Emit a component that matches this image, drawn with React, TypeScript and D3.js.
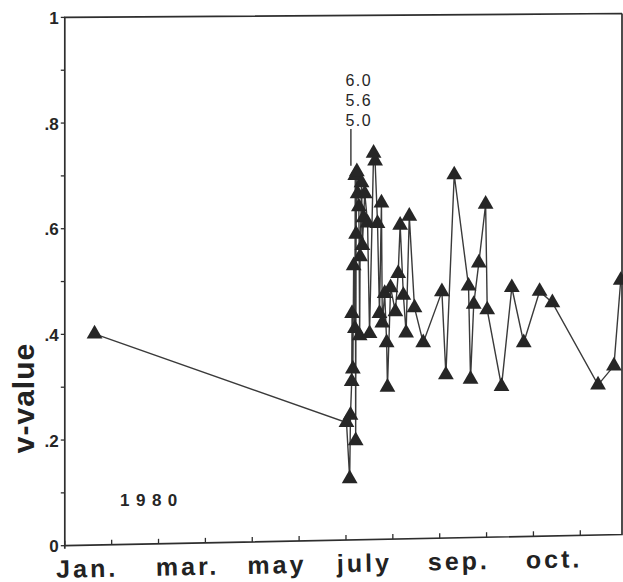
import React from 'react';
import * as d3 from 'd3';

// ---- data (month fraction since Jan 1, v-value) ----
const months = [
  0.635, 6.011, 6.079, 6.096, 6.122, 6.13, 6.147, 6.164, 6.19, 6.198, 6.207, 6.216,
  6.232, 6.249, 6.275, 6.292, 6.301, 6.333, 6.35, 6.376, 6.401, 6.461, 6.503, 6.589,
  6.621, 6.673, 6.715, 6.757, 6.775, 6.826, 6.868, 6.885, 6.952, 7.054, 7.114, 7.156,
  7.225, 7.283, 7.351, 7.462, 7.648, 8.047, 8.132, 8.31, 8.615, 8.658, 8.726, 8.835,
  8.98, 9.014, 9.319, 9.539, 9.793, 10.132, 10.404, 11.379, 11.718, 11.863,
];
const values = [
  0.4, 0.224, 0.117, 0.238, 0.302, 0.432, 0.326, 0.523, 0.403, 0.695, 0.189, 0.583,
  0.702, 0.66, 0.635, 0.389, 0.54, 0.681, 0.561, 0.614, 0.66, 0.604, 0.393, 0.737,
  0.722, 0.603, 0.431, 0.642, 0.413, 0.469, 0.375, 0.29, 0.48, 0.434, 0.507, 0.599,
  0.465, 0.393, 0.616, 0.441, 0.374, 0.471, 0.312, 0.694, 0.481, 0.303, 0.446, 0.525,
  0.637, 0.435, 0.288, 0.477, 0.371, 0.469, 0.447, 0.288, 0.324, 0.488,
];
const xTickMonths = [0, 1, 2, 3, 4, 5, 6, 7, 8, 9, 10, 11];
const monthLabels = ['Jan.', 'mar.', 'may', 'july', 'sep.', 'oct.'];
const monthLabelPos = [0.482, 2.625, 4.531, 6.397, 8.412, 10.446];
const yTicks = [0, 0.1, 0.2, 0.3, 0.4, 0.5, 0.6, 0.7, 0.8, 0.9, 1];
const yTickLabels = ['0', '', '.2', '', '.4', '', '.6', '', '.8', '', '1'];
const annotationLabels = ['6.0', '5.6', '5.0'];
const annotationMonth = 6.105;
const annotationValue = 0.702;
const yearLabel = '1980';
const yTitle = 'v-value';

const W = 623;
const H = 582;
const FONT = '"Liberation Sans", Arial, Helvetica, sans-serif';

export default function App() {
  const xScale = d3.scaleLinear().domain([0, 11.89]).range([64.8, 622]);
  // slight scan skew of the original frame
  const bottomAt = d3.scaleLinear().domain([64.8, 622]).range([545.7, 534.5]);
  const topAt = d3.scaleLinear().domain([64.8, 622]).range([17.4, 13.5]);
  const yAt = (x: number, v: number) =>
    d3.scaleLinear().domain([0, 1]).range([bottomAt(x), topAt(x)])(v);

  const pts: [number, number][] = months.map((m, i) => [m, values[i]]);
  const line = d3
    .line<[number, number]>()
    .x((d) => xScale(d[0]))
    .y((d) => yAt(xScale(d[0]), d[1]));
  const tri = d3.symbol().type(d3.symbolTriangle).size(108)() as string;

  const x0 = xScale.range()[0];
  const x1 = xScale.range()[1];
  const framePath = `M${x1},${topAt(x1)} L${x0},${topAt(x0)} L${x0},${bottomAt(x0) + 3} M${x0},${bottomAt(x0)} L${x1},${bottomAt(x1)} L${x1},${topAt(x1)}`;
  const slopeDeg = (Math.atan2(bottomAt(x1) - bottomAt(x0), x1 - x0) * 180) / Math.PI;

  const ax = xScale(annotationMonth);
  const ay = yAt(ax, annotationValue);

  return (
    <svg
      width={W}
      height={H}
      viewBox={`0 0 ${W} ${H}`}
      style={{ position: 'absolute', left: 0, top: 0, background: '#fff' }}
    >
      <rect x={0} y={0} width={W} height={H} fill="#fff" />
      {/* frame */}
      <path d={framePath} fill="none" stroke="#2e2e2e" strokeWidth={1.7} />
      {/* y ticks */}
      {yTicks.map((v, i) => (
        <g key={'yt' + i}>
          <line x1={x0 - 4} x2={x0} y1={yAt(x0, v)} y2={yAt(x0, v)} stroke="#2e2e2e" strokeWidth={1.3} />
          {yTickLabels[i] && (
            <text
              x={x0 - 6}
              y={yAt(x0, v)}
              dy="0.38em"
              textAnchor="end"
              fontFamily={FONT}
              fontWeight="bold"
              fontSize={17}
              fill="#262626"
            >
              {yTickLabels[i]}
            </text>
          )}
        </g>
      ))}
      {/* x ticks */}
      {xTickMonths.map((m) => {
        const x = xScale(m);
        return (
          <line key={'xt' + m} x1={x} x2={x} y1={bottomAt(x)} y2={bottomAt(x) - 5} stroke="#2e2e2e" strokeWidth={1.3} />
        );
      })}
      {/* month labels */}
      {monthLabels.map((lab, i) => {
        const x = xScale(monthLabelPos[i]);
        const y = bottomAt(x) + 32;
        return (
          <text
            key={lab}
            x={x}
            y={y}
            textAnchor="middle"
            fontFamily={FONT}
            fontWeight="bold"
            fontSize={25}
            letterSpacing={3}
            fill="#222"
            transform={`rotate(${slopeDeg},${x},${y})`}
          >
            {lab}
          </text>
        );
      })}
      {/* y title */}
      <text
        x={0}
        y={0}
        transform={`translate(34,398) rotate(-90)`}
        textAnchor="middle"
        fontFamily={FONT}
        fontWeight="bold"
        fontSize={30}
        letterSpacing={1}
        fill="#222"
      >
        {yTitle}
      </text>
      {/* year */}
      <text x={120} y={506} fontFamily={FONT} fontWeight="bold" fontSize={17} letterSpacing={6.5} fill="#262626">
        {yearLabel}
      </text>
      {/* annotation */}
      {annotationLabels.map((lab, i) => (
        <text
          key={lab}
          x={ax - 5.5}
          y={86 + i * 20}
          fontFamily={FONT}
          fontSize={16}
          letterSpacing={1.5}
          fill="#262626"
        >
          {lab}
        </text>
      ))}
      <line x1={ax} x2={ax} y1={129} y2={ay - 6} stroke="#333" strokeWidth={1.4} />
      {/* series line */}
      <path d={line(pts) || ''} fill="none" stroke="#3a3a3a" strokeWidth={1.4} />
      {/* markers */}
      {pts.map((d, i) => {
        const x = xScale(d[0]);
        const y = yAt(x, d[1]);
        return <path key={'p' + i} d={tri} transform={`translate(${x},${y})`} fill="#262626" />;
      })}
    </svg>
  );
}
